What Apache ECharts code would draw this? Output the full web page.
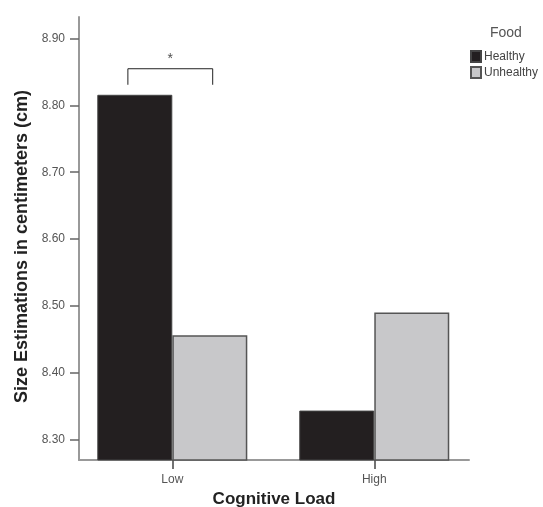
<!DOCTYPE html>
<html><head><meta charset="utf-8">
<script src="https://cdn.jsdelivr.net/npm/echarts@6/dist/echarts.min.js"></script>
<style>html,body{margin:0;padding:0;background:#fff}#c{width:543px;height:507px}</style>
</head><body><div id="c"></div>
<script>
var categories = ['Low', 'High'];
var healthy = [8.816, 8.343];
var unhealthy = [8.456, 8.490];
var yTicks = [8.30, 8.40, 8.50, 8.60, 8.70, 8.80, 8.90];
var bracketX = [-0.22, 0.20];
var bracketY = [8.831, 8.855];

var catPos = categories.map(function (c, i) { return i; });
var chart = echarts.init(document.getElementById('c'));
var bracketData = [[bracketX[0], bracketY[0]], [bracketX[0], bracketY[1]], [bracketX[1], bracketY[1]], [bracketX[1], bracketY[0]]];
chart.setOption({
  animation: false,
  textStyle: { fontFamily: 'Liberation Sans, Arial, sans-serif' },
  grid: { left: 79, top: 17, width: 390, height: 443, containLabel: false, outerBoundsMode: 'none' },
  legend: {
    orient: 'vertical', left: 470, top: 50, padding: 0, itemWidth: 10, itemHeight: 11, itemGap: 3,
    icon: 'rect',
    data: ['Healthy', 'Unhealthy'],
    textStyle: { fontSize: 12, color: '#444', padding: [0, 0, 0, -2] }
  },
  graphic: [{ type: 'text', left: 490, top: 26, style: { text: 'Food', fontSize: 14, fill: '#555', fontFamily: 'Liberation Sans, Arial, sans-serif' } }],
  xAxis: {
    type: 'value', min: -0.462, max: 1.469,
    name: 'Cognitive Load', nameLocation: 'middle', nameGap: 30,
    nameTextStyle: { fontSize: 17, fontWeight: 'bold', color: '#222' },
    axisLine: { show: true, onZero: false, lineStyle: { color: '#999', width: 2 } },
    axisTick: { show: true, customValues: catPos, length: 9, lineStyle: { color: '#444', width: 1.5 } },
    axisLabel: { customValues: catPos, formatter: function (v) { return categories[Math.round(v)] || ''; }, fontSize: 12, color: '#555', margin: 14 },
    splitLine: { show: false }
  },
  yAxis: {
    type: 'value', min: 8.269, max: 8.9325,
    name: 'Size Estimations in centimeters (cm)', nameLocation: 'middle', nameGap: 48,
    nameTextStyle: { fontSize: 18, fontWeight: 'bold', color: '#222', padding: [0, 16, 0, 0] },
    axisLine: { show: true, onZero: false, lineStyle: { color: '#999', width: 2 } },
    axisTick: { show: true, customValues: yTicks, length: 9, lineStyle: { color: '#666', width: 1.5 } },
    axisLabel: { customValues: yTicks, formatter: function (v) { return v.toFixed(2); }, fontSize: 12, color: '#555', margin: 14 },
    splitLine: { show: false }
  },
  series: [
    { name: 'Healthy', type: 'bar', barWidth: 75, barGap: '0%',
      data: catPos.map(function (i) { return [i, healthy[i]]; }),
      itemStyle: { color: '#231f20', borderColor: '#444', borderWidth: 1 } },
    { name: 'Unhealthy', type: 'bar', barWidth: 75, barGap: '0%',
      data: catPos.map(function (i) { return [i, unhealthy[i]]; }),
      itemStyle: { color: '#c8c8ca', borderColor: '#555', borderWidth: 1.5 } },
    { name: 'bracket', type: 'line', data: bracketData, symbol: 'none', silent: true,
      lineStyle: { color: '#222', width: 1 }, z: 5 },
    { name: 'star', type: 'scatter', symbolSize: 0, silent: true,
      data: [[(bracketX[0] + bracketX[1]) / 2, bracketY[1]]],
      label: { show: true, formatter: '*', position: 'top', distance: 3, fontSize: 14, color: '#222' } }
  ]
});
</script></body></html>
